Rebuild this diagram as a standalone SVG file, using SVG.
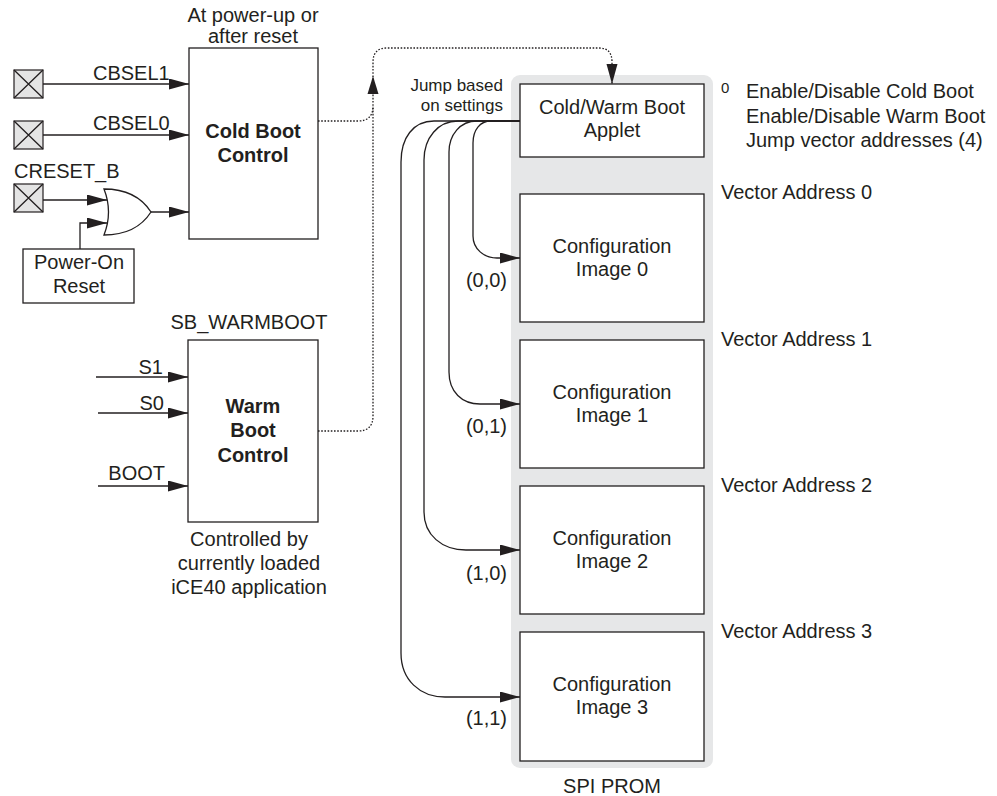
<svg xmlns="http://www.w3.org/2000/svg" width="997" height="796" viewBox="0 0 997 796">
<defs>
<marker id="arr" markerUnits="userSpaceOnUse" markerWidth="21" markerHeight="12" refX="20" refY="5.5" orient="auto"><path d="M0,0 L20,5.5 L0,11 Z" fill="#231f20"/></marker>
<style>
text{font-family:"Liberation Sans",Arial,Helvetica,sans-serif;font-size:20px;fill:#231f20}
.b{font-weight:bold}
.m{text-anchor:middle}
.e{text-anchor:end}
.box{fill:#fff;stroke:#231f20;stroke-width:1.3}
.ln{fill:none;stroke:#231f20;stroke-width:1.3}
.dot{fill:none;stroke:#231f20;stroke-width:1.3;stroke-dasharray:1.6 1.6}
.pad{fill:#e4e4e4;stroke:#231f20;stroke-width:1.2}
.ah{fill:#231f20}
.sm{font-size:17px}
</style>
</defs>

<g id="spi-prom">
<rect x="511" y="75" width="202" height="693" rx="9" fill="#e6e7e8"/>
<text class="m" x="612" y="793">SPI PROM</text>
</g>

<g id="applet">
<rect class="box" x="520" y="84" width="184" height="73"/>
<text class="m" x="612" y="114">Cold/Warm Boot</text>
<text class="m" x="612" y="137">Applet</text>
</g>
<g id="image0">
<rect class="box" x="520" y="194" width="184" height="128"/>
<text class="m" x="612" y="253">Configuration</text>
<text class="m" x="612" y="276">Image 0</text>
</g>
<g id="image1">
<rect class="box" x="520" y="340" width="184" height="128"/>
<text class="m" x="612" y="399">Configuration</text>
<text class="m" x="612" y="422">Image 1</text>
</g>
<g id="image2">
<rect class="box" x="520" y="486" width="184" height="128"/>
<text class="m" x="612" y="545">Configuration</text>
<text class="m" x="612" y="568">Image 2</text>
</g>
<g id="image3">
<rect class="box" x="520" y="632" width="184" height="129"/>
<text class="m" x="612" y="691">Configuration</text>
<text class="m" x="612" y="714">Image 3</text>
</g>

<g id="annotations">
<text x="721" y="93" style="font-size:15px">0</text>
<text x="746" y="98">Enable/Disable Cold Boot</text>
<text x="746" y="123">Enable/Disable Warm Boot</text>
<text x="746" y="147">Jump vector addresses (4)</text>
<text x="721" y="199">Vector Address 0</text>
<text x="721" y="346">Vector Address 1</text>
<text x="721" y="492">Vector Address 2</text>
<text x="721" y="638">Vector Address 3</text>
<text class="e sm" x="503" y="91">Jump based</text>
<text class="e sm" x="503" y="111">on settings</text>
<text class="e" x="507" y="287">(0,0)</text>
<text class="e" x="507" y="433">(0,1)</text>
<text class="e" x="507" y="580">(1,0)</text>
<text class="e" x="507" y="725">(1,1)</text>
</g>

<g id="cold-boot">
<text class="m" x="253" y="22">At power-up or</text>
<text class="m" x="253" y="43">after reset</text>
<rect class="box" x="189" y="48" width="129" height="191"/>
<text class="m b" x="253" y="138">Cold Boot</text>
<text class="m b" x="253" y="162">Control</text>
</g>

<g id="pad-cbsel1">
<rect class="pad" x="14" y="70" width="29" height="28"/>
<path class="ln" d="M14,70 L43,98 M43,70 L14,98"/>
<text x="93" y="80">CBSEL1</text>
</g>
<g id="pad-cbsel0">
<rect class="pad" x="14" y="121" width="29" height="28"/>
<path class="ln" d="M14,121 L43,149 M43,121 L14,149"/>
<text x="93" y="130">CBSEL0</text>
</g>
<g id="pad-creset">
<rect class="pad" x="14" y="184" width="29" height="28"/>
<path class="ln" d="M14,184 L43,212 M43,184 L14,212"/>
<text x="14" y="178">CRESET_B</text>
</g>
<g id="or-gate">
<path class="box" d="M104,189 C126,189 142,198 151,212 C142,226 126,235 104,235 Q113,212 104,189 Z"/>
</g>
<g id="power-on-reset">
<rect class="box" x="23" y="249" width="111" height="54"/>
<text class="m" x="79" y="269">Power-On</text>
<text class="m" x="79" y="293">Reset</text>
</g>

<g id="warm-boot">
<text class="m" x="249" y="329">SB_WARMBOOT</text>
<rect class="box" x="188" y="340" width="130" height="182"/>
<text class="m b" x="253" y="413">Warm</text>
<text class="m b" x="253" y="437">Boot</text>
<text class="m b" x="253" y="462">Control</text>
<text class="e" x="163" y="374">S1</text>
<text class="e" x="164" y="410">S0</text>
<text class="e" x="165" y="480">BOOT</text>
<text class="m" x="249" y="546">Controlled by</text>
<text class="m" x="249" y="570">currently loaded</text>
<text class="m" x="249" y="594">iCE40 application</text>
</g>

<g id="connectors">
<path class="ln" marker-end="url(#arr)" d="M43,84 H189"/>
<path class="ln" marker-end="url(#arr)" d="M43,135 H189"/>
<path class="ln" marker-end="url(#arr)" d="M43,200 H107"/>
<path class="ln" marker-end="url(#arr)" d="M80,249 V223 H107"/>
<path class="ln" marker-end="url(#arr)" d="M151,212 H189"/>
<path class="ln" marker-end="url(#arr)" d="M96,377 H188"/>
<path class="ln" marker-end="url(#arr)" d="M98,413 H188"/>
<path class="ln" marker-end="url(#arr)" d="M98,486 H188"/>

<path class="dot" d="M318,121 H358 Q373,121 373,106"/>
<path class="dot" marker-end="url(#arr)" d="M318,431 H358 Q373,431 373,416 V62 Q373,48 387,48 H599 Q612,48 612,62 V84"/>
<polygon class="ah" points="373,76 367.5,94 378.5,94"/>

<path class="ln" marker-end="url(#arr)" d="M520,121 H491 C480,121 473,130 473,143 V236 C473,249 484,258 497,258 H520"/>
<path class="ln" marker-end="url(#arr)" d="M520,121 H477 C460,121 449,135 449,152 V372 C449,392 462,404 480,404 H520"/>
<path class="ln" marker-end="url(#arr)" d="M520,121 H458 C438,121 424,138 424,160 V512 C424,535 442,550 466,550 H520"/>
<path class="ln" marker-end="url(#arr)" d="M520,121 H434 C413,121 401,138 401,162 V653 C401,680 420,697 445,697 H520"/>
</g>
</svg>
